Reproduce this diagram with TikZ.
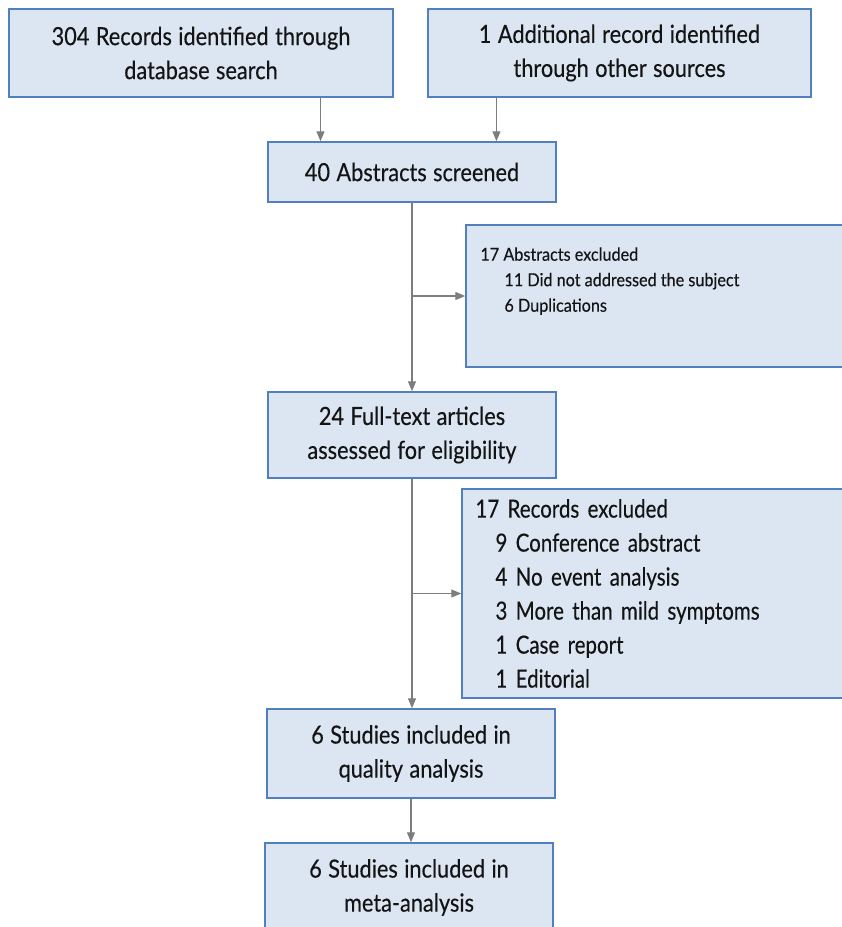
\documentclass[tikz,border=0pt]{standalone}
\usepackage{fontspec}
\setmainfont{Lato}[FakeStretch=0.82, FakeBold=0.3]
\newfontfamily\boxfont{Lato}[FakeStretch=0.87, FakeBold=0.3, WordSpace=1.15]
\newfontfamily\notefont{Lato}[FakeStretch=0.9, FakeBold=0.3]
\usetikzlibrary{arrows.meta,calc}

\definecolor{boxfill}{RGB}{220,230,242}
\definecolor{boxline}{RGB}{80,128,190}
\definecolor{arrowgray}{RGB}{125,125,125}

\tikzset{
  flowbox/.style={draw=boxline, fill=boxfill, line width=1.5pt, inner sep=0pt,
    align=center, text=black!92, font=\boxfont\fontsize{25}{34}\selectfont},
  exclbox/.style={draw=boxline, fill=boxfill, line width=1.5pt, inner sep=0pt},
  listtext/.style={text=black!92, font=\fontsize{25}{34}\selectfont},
  smalltext/.style={inner sep=0pt, align=left, text=black!92,
    font=\notefont\fontsize{18}{25.5}\selectfont},
  flowarrow/.style={draw=arrowgray, line width=1.3pt, -{Triangle[length=10pt,width=8pt]}}
}

\begin{document}
\begin{tikzpicture}[x=1pt,y=-1pt]
			%%%%% START %%%%%
			\clip (0,0) rectangle (842,927);
			\fill[white] (0,0) rectangle (842,927);
			
			\node[flowbox, minimum width=384pt, minimum height=88pt] (records) at (201,53)
				{304 Records identified through\\database search};
			\node[flowbox, minimum width=383pt, minimum height=88pt] (other) at (619.5,53)
				{1 Additional record identified\\through other sources};
			
			\node[flowbox, minimum width=288pt, minimum height=60pt] (screened) at (412,172)
				{40 Abstracts screened};
			
			\node[exclbox, minimum width=394pt, minimum height=142pt] (abstractsout) at (663,296) {};
			\node[smalltext, anchor=north west] (abstractstxt) at ($(abstractsout.north west)+(15,23)$)
				{17 Abstracts excluded\\
				 \hspace*{24pt}11 Did not addressed the subject\\
				 \hspace*{24pt}6 Duplications};
			
			\node[flowbox, minimum width=288pt, minimum height=86pt] (fulltext) at (412,435)
				{24 Full-text articles\\assessed for eligibility};
			
			\node[exclbox, listtext, minimum width=398pt, minimum height=209pt, text width=371pt, align=left] (recordsout) at (661,593.5)
				{17 Records excluded\\
				 \hspace*{20pt}9 Conference abstract\\
				 \hspace*{20pt}4 No event analysis\\
				 \hspace*{20pt}3 More than mild symptoms\\
				 \hspace*{20pt}1 Case report\\
				 \hspace*{20pt}1 Editorial};
			
			\node[flowbox, minimum width=288pt, minimum height=89pt] (quality) at (411,753.5)
				{6 Studies included in\\quality analysis};
			\node[flowbox, minimum width=288pt, minimum height=89pt] (meta) at (409,887.5)
				{6 Studies included in\\meta-analysis};
			
			% connectors
			\draw[flowarrow] ($(records.south west)!0.81!(records.south east)$) coordinate (r1) -- (r1 |- screened.north);
			\draw[flowarrow] ($(other.south west)!0.18!(other.south east)$) coordinate (o1) -- (o1 |- screened.north);
			\draw[flowarrow] (screened.south) -- (fulltext.north);
			\draw[flowarrow] (screened.south |- abstractsout.west) -- (abstractsout.west);
			\draw[flowarrow] (fulltext.south) -- (fulltext.south |- quality.north);
			\draw[flowarrow] (fulltext.south |- recordsout.west) -- (recordsout.west);
			\draw[flowarrow] (quality.south) -- (quality.south |- meta.north);
			%%%%% END %%%%%
\end{tikzpicture}
\end{document}
